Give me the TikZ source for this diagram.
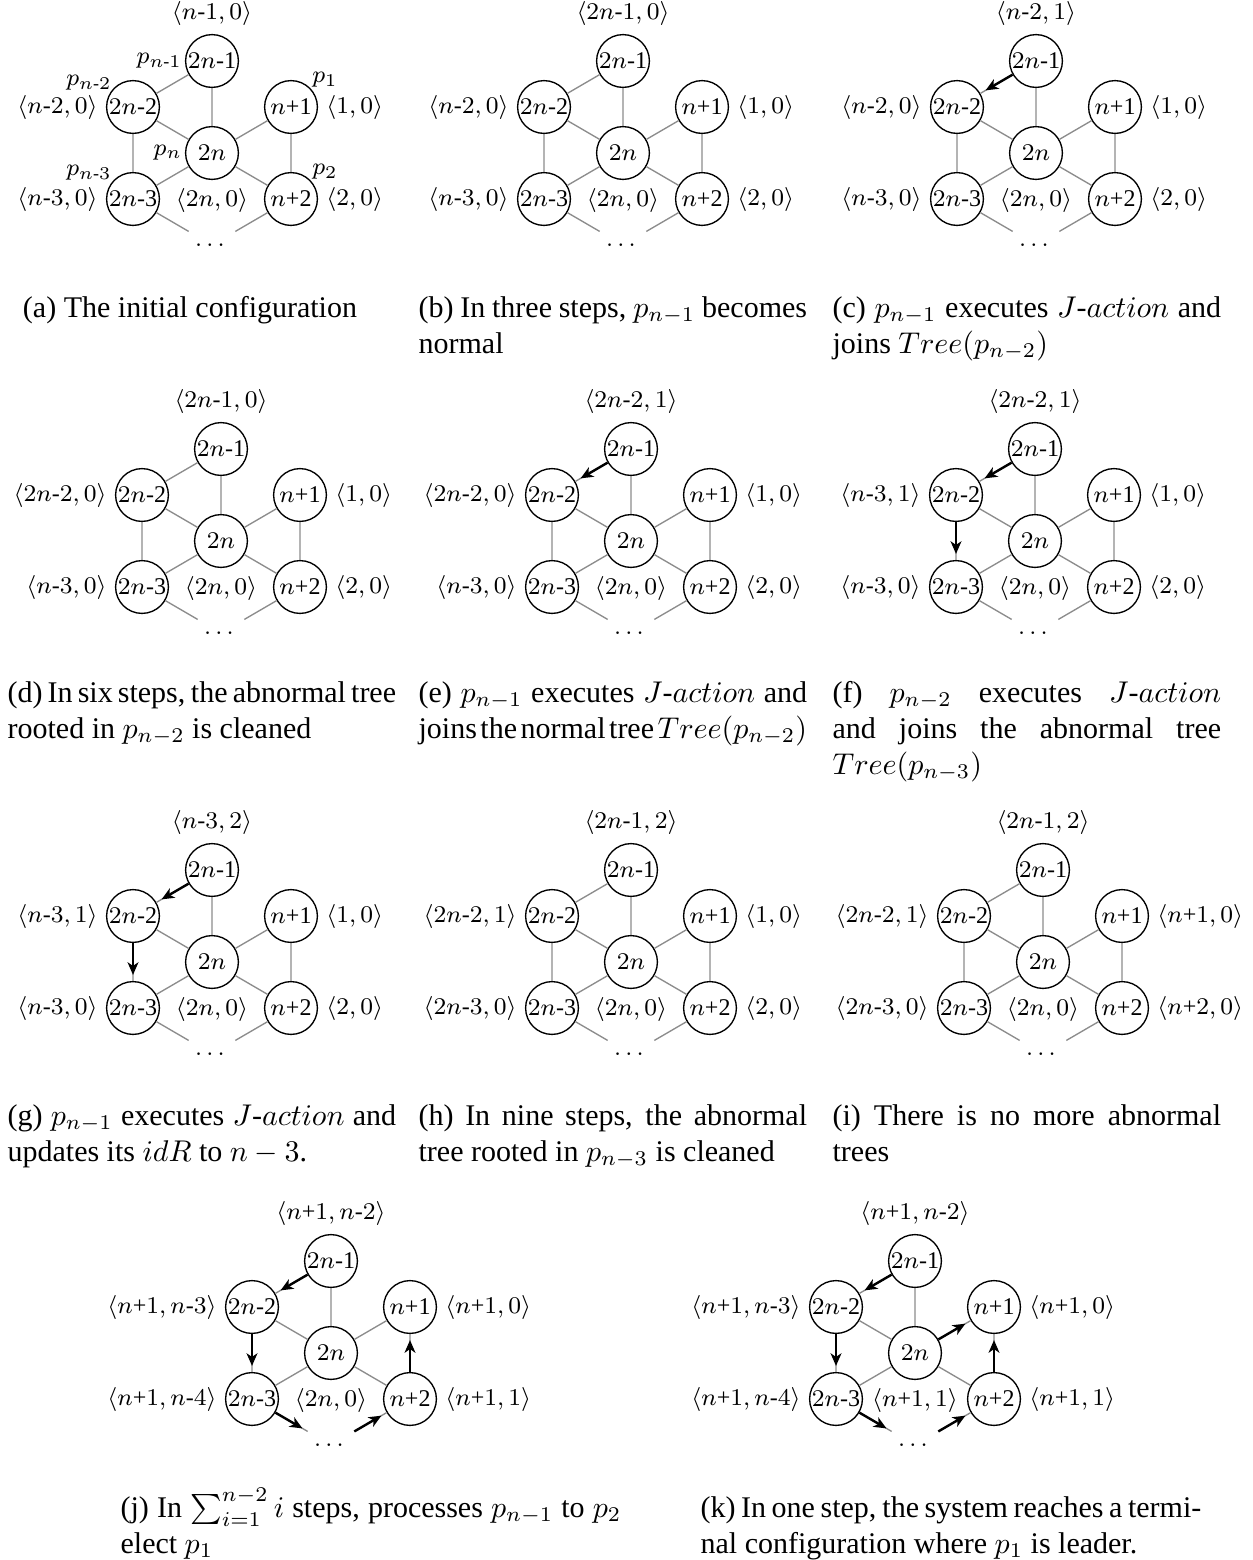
\documentclass[tikz,border=0pt]{standalone}
\usepackage{amsmath}
\usepackage[no-math]{fontspec}
\setmainfont{Liberation Serif}
\usetikzlibrary{arrows.meta,positioning}

% one unit = one third of a point, y grows downwards
\tikzset{
  every picture/.style={x=0.333333pt, y=-0.333333pt},
  proc/.style={circle, draw, line width=0.45pt, minimum size=17.6pt, inner sep=0.2pt,
               font=\fontsize{8}{9.6}\selectfont},
  hole/.style={circle, minimum size=17.6pt, inner sep=0pt, font=\fontsize{8}{9.6}\selectfont},
  lab/.style={inner sep=2.6pt, font=\fontsize{8}{9.6}\selectfont},
  link/.style={draw=black!45, line width=0.45pt},
  ptr/.style={draw=black, line width=0.8pt, shorten >=2pt,
              -{Stealth[length=4.2pt,width=3.6pt,inset=1.2pt]}},
  capnode/.style={anchor=base west, inner sep=0pt},
}

\newcommand\pr[2]{\langle #1, #2\rangle}
\newcommand\hy{\text{-}}
\newcommand\pl{\text{+}}
% caption paragraphs: justified, with some extra room to squeeze spaces
\newcommand\capfont{\fontsize{10}{12}\selectfont
  \spaceskip=0.25em plus 0.16em minus 0.16em\relax}
\newcommand\capbox[1]{\parbox[t]{129.5pt}{\capfont #1}}
\newcommand\widecap[1]{\parbox[t]{166.9pt}{\capfont #1}}

% the six processes of the ring around the centre, and the gap below
\newcommand\hexg[3]{%
  \begin{scope}[shift={(#2,#3)}]
    \node[proc] (#1c)  at (0,0)     {$2n$};
    \node[proc] (#1t)  at (0,-92)   {$2n$-1};
    \node[proc] (#1l)  at (-79,-46) {$2n$-2};
    \node[proc] (#1r)  at (79,-46)  {$n$+1};
    \node[proc] (#1bl) at (-79,46)  {$2n$-3};
    \node[proc] (#1br) at (79,46)   {$n$+2};
    \node[hole] (#1d)  at (0,92)    {$\dots$};
  \end{scope}
  \draw[link] (#1t) -- (#1l)  (#1t) -- (#1c)  (#1l) -- (#1c)
              (#1l) -- (#1bl) (#1c) -- (#1bl) (#1c) -- (#1r)
              (#1c) -- (#1br) (#1r) -- (#1br) (#1bl) -- (#1d)
              (#1br) -- (#1d);
}

% states: top, left-upper, right-upper, left-lower, centre, right-lower
\newcommand\hexlab[7]{%
  \node[lab, above=0pt of #1t] (#1Lt)  {$#2$};
  \node[lab, left=0pt of #1l]  (#1Ll)  {$#3$};
  \node[lab, right=0pt of #1r] (#1Lr)  {$#4$};
  \node[lab, left=0pt of #1bl] (#1Lbl) {$#5$};
  \node[lab, below=0pt of #1c] (#1Lc)  {$#6$};
  \node[lab, right=0pt of #1br](#1Lbr) {$#7$};
}

\begin{document}
\begin{tikzpicture}
\useasboundingbox (0,0) rectangle (1252,1560);

% ---------------- (a)
\hexg{a}{212}{153}
\hexlab{a}{\pr{n\hy1}{0}}{\pr{n\hy2}{0}}{\pr{1}{0}}{\pr{n\hy3}{0}}{\pr{2n}{0}}{\pr{2}{0}}
\node[lab, left=-1.8pt of at] (apt) {$p_{n\hy1}$};
\node[lab, left=-1.8pt of ac] (apc) {$p_{n}$};
\path (al)  ++(-44,-24) node[lab] (apl)  {$p_{n\hy2}$};
\path (abl) ++(-44,-26) node[lab] (apbl) {$p_{n\hy3}$};
\path (ar)  ++(34,-27)  node[lab] (apr)  {$p_{1}$};
\path (abr) ++(34,-27)  node[lab] (apbr) {$p_{2}$};
\node[anchor=base] (capa) at (190,317) {\capfont (a) The initial configuration};

% ---------------- (b)
\hexg{b}{623}{153}
\hexlab{b}{\pr{2n\hy1}{0}}{\pr{n\hy2}{0}}{\pr{1}{0}}{\pr{n\hy3}{0}}{\pr{2n}{0}}{\pr{2}{0}}
\node[capnode] (capb) at (418,317)
  {\capbox{(b) In three steps, $p_{n-1}$ becomes\linebreak normal}};

% ---------------- (c)
\hexg{c}{1036}{153}
\hexlab{c}{\pr{n\hy2}{1}}{\pr{n\hy2}{0}}{\pr{1}{0}}{\pr{n\hy3}{0}}{\pr{2n}{0}}{\pr{2}{0}}
\draw[ptr] (ct) -- (cl);
\node[capnode] (capc) at (832,317)
  {\capbox{(c) $p_{n-1}$ executes $J$-$action$ and\linebreak joins $Tree(p_{n-2})$}};

% ---------------- (d)
\hexg{d}{221}{541}
\hexlab{d}{\pr{2n\hy1}{0}}{\pr{2n\hy2}{0}}{\pr{1}{0}}{\pr{n\hy3}{0}}{\pr{2n}{0}}{\pr{2}{0}}
\node[capnode] (capd) at (7,702)
  {\capbox{(d) In six steps, the abnormal tree\linebreak rooted in $p_{n-2}$ is cleaned}};

% ---------------- (e)
\hexg{e}{631}{541}
\hexlab{e}{\pr{2n\hy2}{1}}{\pr{2n\hy2}{0}}{\pr{1}{0}}{\pr{n\hy3}{0}}{\pr{2n}{0}}{\pr{2}{0}}
\draw[ptr] (et) -- (el);
\node[capnode] (cape) at (418,702)
  {\capbox{(e) $p_{n-1}$ executes $J$-$action$ and\linebreak
   \hbox to \linewidth{joins\hfil the\hfil normal\hfil tree\hfil $Tree(p_{n-2})$}}};

% ---------------- (f)
\hexg{f}{1035}{541}
\hexlab{f}{\pr{2n\hy2}{1}}{\pr{n\hy3}{1}}{\pr{1}{0}}{\pr{n\hy3}{0}}{\pr{2n}{0}}{\pr{2}{0}}
\draw[ptr] (ft) -- (fl);
\draw[ptr] (fl) -- (fbl);
\node[capnode] (capf) at (832,702)
  {\capbox{(f) $p_{n-2}$ executes $J$-$action$\linebreak and joins the abnormal tree\linebreak $Tree(p_{n-3})$}};

% ---------------- (g)
\hexg{g}{212}{962}
\hexlab{g}{\pr{n\hy3}{2}}{\pr{n\hy3}{1}}{\pr{1}{0}}{\pr{n\hy3}{0}}{\pr{2n}{0}}{\pr{2}{0}}
\draw[ptr] (gt) -- (gl);
\draw[ptr] (gl) -- (gbl);
\node[capnode] (capg) at (7,1125)
  {\capbox{(g) $p_{n-1}$ executes $J$-$action$ and\linebreak updates its $idR$ to $n-3$.}};

% ---------------- (h)
\hexg{h}{631}{962}
\hexlab{h}{\pr{2n\hy1}{2}}{\pr{2n\hy2}{1}}{\pr{1}{0}}{\pr{2n\hy3}{0}}{\pr{2n}{0}}{\pr{2}{0}}
\node[capnode] (caph) at (418,1125)
  {\capbox{(h) In nine steps, the abnormal\linebreak tree rooted in $p_{n-3}$ is cleaned}};

% ---------------- (i)
\hexg{i}{1043}{962}
\hexlab{i}{\pr{2n\hy1}{2}}{\pr{2n\hy2}{1}}{\pr{n\pl1}{0}}{\pr{2n\hy3}{0}}{\pr{2n}{0}}{\pr{n\pl2}{0}}
\node[capnode] (capi) at (832,1125)
  {\capbox{(i) There is no more abnormal\linebreak trees}};

% ---------------- (j)
\hexg{j}{331}{1353}
\hexlab{j}{\pr{n\pl1}{n\hy2}}{\pr{n\pl1}{n\hy3}}{\pr{n\pl1}{0}}{\pr{n\pl1}{n\hy4}}{\pr{2n}{0}}{\pr{n\pl1}{1}}
\draw[ptr] (jt) -- (jl);
\draw[ptr] (jl) -- (jbl);
\draw[ptr] (jbl) -- (jd);
\draw[ptr] (jd) -- (jbr);
\draw[ptr] (jbr) -- (jr);
\node[capnode] (capj) at (120,1517)
  {\widecap{(j) In $\sum_{i=1}^{n-2} i$ steps, processes $p_{n-1}$ to $p_2$\linebreak elect $p_1$}};

% ---------------- (k)
\hexg{k}{915}{1353}
\hexlab{k}{\pr{n\pl1}{n\hy2}}{\pr{n\pl1}{n\hy3}}{\pr{n\pl1}{0}}{\pr{n\pl1}{n\hy4}}{\pr{n\pl1}{1}}{\pr{n\pl1}{1}}
\draw[ptr] (kt) -- (kl);
\draw[ptr] (kl) -- (kbl);
\draw[ptr] (kbl) -- (kd);
\draw[ptr] (kd) -- (kbr);
\draw[ptr] (kbr) -- (kr);
\draw[ptr] (kc) -- (kr);
\node[capnode] (capk) at (700,1517)
  {\widecap{(k) In one step, the system reaches a termi-\linebreak nal configuration where $p_1$ is leader.}};
\end{tikzpicture}
\end{document}
